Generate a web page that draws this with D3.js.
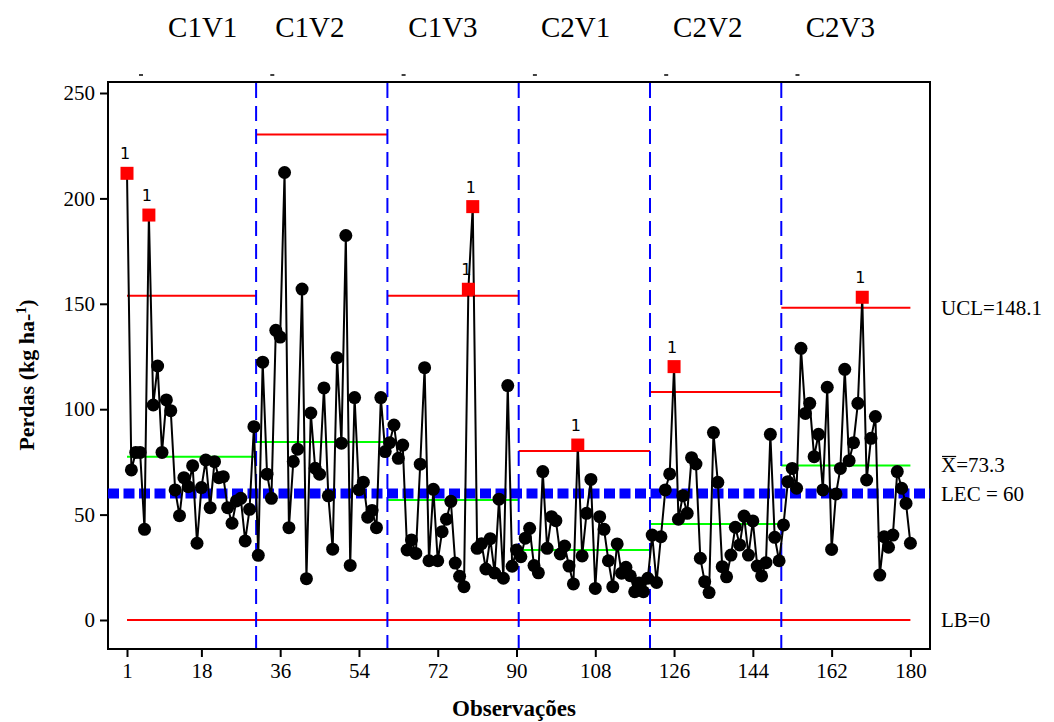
<!DOCTYPE html>
<html lang="pt">
  <head>
    <meta charset="UTF-8" />
    <script src="https://d3js.org/d3.v7.min.js"></script>
    <title>Perdas</title>
    <style>
      body { margin: 0; background: #fff; }
      text { font-family: "Liberation Serif", "Times New Roman", serif; }
    </style>
  </head>
  <body>
    <div id="chart"></div>
    <script>
      const c1v1 = [211.9, 71.2, 79.5, 79.5, 43.0, 192.1, 102.0, 120.5, 79.5, 104.4, 99.3, 61.7, 49.5, 67.5, 63.2, 73.2, 36.4, 62.8, 75.9, 53.3, 75.1, 67.5, 68.0, 53.3, 45.9, 56.5, 57.7, 37.5, 52.5, 91.7];
      const c1v2 = [30.7, 122.3, 69.2, 57.7, 137.4, 134.2, 212.3, 43.8, 75.2, 81.0, 157.0, 19.6, 98.2, 72.0, 69.2, 110.1, 58.9, 33.6, 124.4, 83.9, 182.4, 25.9, 105.5, 61.8, 65.4, 48.8, 52.0, 43.8, 105.5, 79.9];
      const c1v3 = [84.1, 92.5, 76.7, 83.0, 33.2, 38.0, 31.6, 73.9, 119.7, 28.1, 62.0, 28.1, 41.9, 47.8, 56.3, 27.0, 20.7, 15.8, 156.9, 196.1, 34.0, 36.2, 24.2, 38.6, 22.3, 57.3, 19.8, 111.2, 25.5, 33.2];
      const c2v1 = [30.0, 38.8, 43.5, 25.8, 22.4, 70.4, 34.0, 49.0, 47.1, 31.3, 35.1, 25.6, 17.1, 83.0, 30.4, 50.6, 66.7, 15.0, 49.0, 43.0, 28.1, 15.8, 36.1, 22.2, 25.0, 21.0, 13.4, 17.5, 13.4, 19.8];
      const c2v2 = [40.3, 17.8, 39.5, 61.7, 69.3, 120.2, 47.8, 59.0, 50.6, 77.0, 74.0, 29.3, 18.2, 13.0, 88.9, 65.3, 25.3, 20.5, 30.8, 44.0, 35.6, 49.3, 30.8, 47.0, 25.6, 20.9, 27.2, 88.1, 39.2, 28.1];
      const c2v3 = [45.1, 65.6, 71.9, 62.5, 128.9, 98.0, 102.8, 77.5, 88.1, 61.7, 110.4, 33.5, 59.8, 71.9, 118.9, 75.6, 84.1, 102.8, 153.1, 66.4, 86.2, 96.5, 21.3, 39.5, 34.5, 40.3, 70.4, 62.5, 55.3, 36.4];

      const groupNames = ["C1V1", "C1V2", "C1V3", "C2V1", "C2V2", "C2V3"];
      const groupLabelAt = [18.3, 42.8, 73.2, 103.5, 133.7, 164]; // observation under each title
      const ucl = [153.8, 230.3, 153.8, 80.2, 108.2, 148.1];
      const media = [77.5, 84.4, 56.9, 33.2, 45.5, 73.3];
      const lec = 60;
      const lb = 0;
      const xTicks = [1, 18, 36, 54, 72, 90, 108, 126, 144, 162, 180];
      const yTicks = [0, 50, 100, 150, 200, 250];
      const rightLabels = [
        { v: 148.1, t: "UCL=148.1" },
        { v: 73.3, t: "X", rest: "=73.3" },
        { v: 59.6, t: "LEC = 60" },
        { v: 0, t: "LB=0" },
      ];

      const groups = [c1v1, c1v2, c1v3, c2v1, c2v2, c2v3];
      const data = [];
      groups.forEach((g, gi) => {
        g.forEach((v, j) => {
          data.push({ obs: gi * 30 + j + 1, value: v, group: gi, out: v > ucl[gi] });
        });
      });

      const W = 1054, H = 722;
      const frame = { left: 108, right: 930, top: 82, bottom: 649 };

      const svg = d3
        .select("#chart")
        .append("svg")
        .attr("width", W)
        .attr("height", H);

      const x = d3.scaleLinear().domain([1, 180]).range([127, 910.4]);
      const y = d3.scaleLinear().domain([0, 250]).range([620, 93]);

      // segment limits of each group
      const segStart = (gi) => Math.max(1, gi * 30 + 0.5);
      const segEnd = (gi) => Math.min(180, gi * 30 + 30.5);

      // frame
      svg
        .append("rect")
        .attr("x", frame.left)
        .attr("y", frame.top)
        .attr("width", frame.right - frame.left)
        .attr("height", frame.bottom - frame.top)
        .attr("fill", "none")
        .attr("stroke", "#000")
        .attr("stroke-width", 2);

      // axes
      const yAxis = svg
        .append("g")
        .attr("transform", `translate(${frame.left},0)`)
        .call(d3.axisLeft(y).tickValues(yTicks).tickSize(8).tickPadding(5));
      yAxis.select(".domain").remove();
      yAxis.selectAll("line").attr("stroke-width", 2);
      yAxis.selectAll("text").style("font-size", "21px").style("font-family", "Liberation Serif");

      const xAxis = svg
        .append("g")
        .attr("transform", `translate(0,${frame.bottom})`)
        .call(d3.axisBottom(x).tickValues(xTicks).tickSize(8).tickPadding(6));
      xAxis.select(".domain").remove();
      xAxis.selectAll("line").attr("stroke-width", 2);
      xAxis.selectAll("text").style("font-size", "21px").style("font-family", "Liberation Serif");

      // axis titles
      svg
        .append("text")
        .attr("x", 514)
        .attr("y", 716)
        .attr("text-anchor", "middle")
        .style("font-size", "23px")
        .style("font-weight", "bold")
        .text("Observações");

      const yl = svg
        .append("text")
        .attr("transform", "translate(34,375) rotate(-90)")
        .attr("text-anchor", "middle")
        .style("font-size", "22px")
        .style("font-weight", "bold");
      yl.append("tspan").text("Perdas (kg ha-");
      yl.append("tspan").attr("dy", -8).style("font-size", "14px").text("1");
      yl.append("tspan").attr("dy", 8).text(")");

      // group titles
      svg
        .selectAll(".gname")
        .data(groupNames)
        .join("text")
        .attr("x", (d, i) => x(groupLabelAt[i]))
        .attr("y", 37)
        .attr("text-anchor", "middle")
        .style("font-size", "29px")
        .text((d) => d);

      // small marks above the frame
      svg
        .selectAll(".tick-top")
        .data(groupNames)
        .join("line")
        .attr("x1", (d, i) => x(i * 30 + 4.2) - 2)
        .attr("x2", (d, i) => x(i * 30 + 4.2) + 2)
        .attr("y1", 75)
        .attr("y2", 75)
        .attr("stroke", "#000")
        .attr("stroke-width", 1.5);

      // LB line
      svg
        .append("line")
        .attr("x1", x(1))
        .attr("x2", x(180))
        .attr("y1", y(lb))
        .attr("y2", y(lb))
        .attr("stroke", "#ff0000")
        .attr("stroke-width", 2);

      // UCL per group
      svg
        .selectAll(".ucl")
        .data(ucl)
        .join("line")
        .attr("x1", (d, i) => x(segStart(i)))
        .attr("x2", (d, i) => x(segEnd(i)))
        .attr("y1", (d) => y(d))
        .attr("y2", (d) => y(d))
        .attr("stroke", "#ff0000")
        .attr("stroke-width", 2);

      // mean per group
      svg
        .selectAll(".mean")
        .data(media)
        .join("line")
        .attr("x1", (d, i) => x(segStart(i)))
        .attr("x2", (d, i) => x(segEnd(i)))
        .attr("y1", (d) => y(d))
        .attr("y2", (d) => y(d))
        .attr("stroke", "#00ff00")
        .attr("stroke-width", 2);

      // LEC
      svg
        .append("line")
        .attr("x1", frame.left)
        .attr("x2", frame.right)
        .attr("y1", y(lec))
        .attr("y2", y(lec))
        .attr("stroke", "#0000ff")
        .attr("stroke-width", 10)
        .attr("stroke-dasharray", "11,4.5");

      // group separators
      svg
        .selectAll(".sep")
        .data([30.5, 60.5, 90.5, 120.5, 150.5])
        .join("line")
        .attr("x1", (d) => x(d))
        .attr("x2", (d) => x(d))
        .attr("y1", frame.top + 1)
        .attr("y2", frame.bottom - 1)
        .attr("stroke", "#0000ff")
        .attr("stroke-width", 2)
        .attr("stroke-dasharray", "15,8");

      // data line (broken between groups? no, continuous)
      const line = d3
        .line()
        .x((d) => x(d.obs))
        .y((d) => y(d.value));
      svg
        .append("path")
        .datum(data)
        .attr("d", line)
        .attr("fill", "none")
        .attr("stroke", "#000")
        .attr("stroke-width", 2);

      // points
      svg
        .selectAll(".pt")
        .data(data.filter((d) => !d.out))
        .join("circle")
        .attr("cx", (d) => x(d.obs))
        .attr("cy", (d) => y(d.value))
        .attr("r", 6.5)
        .attr("fill", "#000");

      const outs = data.filter((d) => d.out);
      svg
        .selectAll(".out")
        .data(outs)
        .join("rect")
        .attr("x", (d) => x(d.obs) - 6.5)
        .attr("y", (d) => y(d.value) - 6.5)
        .attr("width", 13)
        .attr("height", 13)
        .attr("fill", "#ff0000");
      svg
        .selectAll(".outlab")
        .data(outs)
        .join("text")
        .attr("x", (d) => x(d.obs) - 2)
        .attr("y", (d) => y(d.value) - 14)
        .attr("text-anchor", "middle")
        .style("font-family", "DejaVu Sans")
        .style("font-size", "16px")
        .text("1");

      // right side labels
      rightLabels.forEach((r) => {
        const t = svg
          .append("text")
          .attr("x", 941)
          .attr("y", y(r.v) + 7)
          .style("font-size", "21px");
        t.append("tspan").text(r.t);
        if (r.rest) {
          t.append("tspan").text(r.rest);
          const w = t.node().getSubStringLength(0, 1);
          svg
            .append("line")
            .attr("x1", 942)
            .attr("x2", 941 + w)
            .attr("y1", y(r.v) - 9)
            .attr("y2", y(r.v) - 9)
            .attr("stroke", "#000")
            .attr("stroke-width", 1.2);
        }
      });
    </script>
  </body>
</html>
